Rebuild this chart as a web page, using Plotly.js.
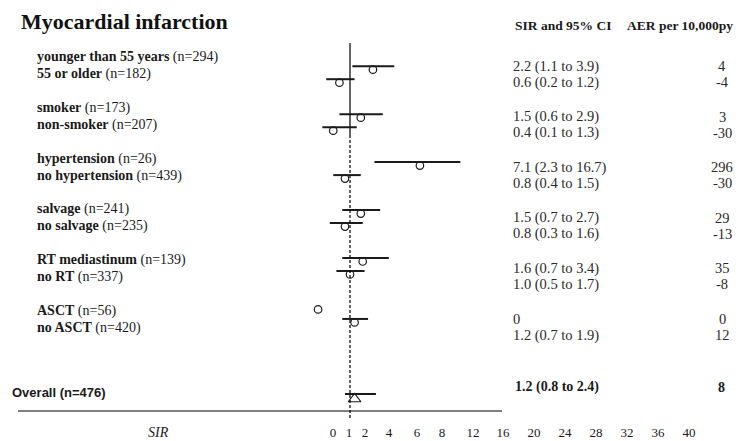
<!DOCTYPE html>
<html><head><meta charset="utf-8">
<script src="https://cdn.plot.ly/plotly-3.0.1.min.js"></script>
<style>html,body{margin:0;padding:0;background:#fff}</style>
</head><body><div id="chart" style="width:744px;height:441px"></div>
<script>
// ---- data ----
const labels = ["younger than 55 years","55 or older","smoker","non-smoker","hypertension","no hypertension","salvage","no salvage","RT mediastinum","no RT","ASCT","no ASCT"];
const counts = [294,182,173,207,26,439,241,235,139,337,56,420];
const sir = [2.2,0.6,1.5,0.4,7.1,0.8,1.5,0.8,1.6,1.0,0,1.2];
const ciLow = [1.1,0.2,0.6,0.1,2.3,0.4,0.7,0.3,0.7,0.5,null,0.7];
const ciHigh = [3.9,1.2,2.9,1.3,16.7,1.5,2.7,1.6,3.4,1.7,null,1.9];
const aer = [4,-4,3,-30,296,-30,29,-13,35,-8,0,12];
const overallLabel = "Overall";
const overallN = 476;
const overallSir = 1.2;
const overallLow = 0.8;
const overallHigh = 2.4;
const overallAer = 8;
const tickLabels = ["0","1","2","4","6","8","12","16","20","24","28","32","36","40"];

// ---- layout constants ----
const W = 744, H = 441, AXIS_Y = 411;
const tickPos = [333,349,365,389,417,442,473,503,534,565,596,627,658,689];
// SIR display scale (shifted log scale), reference value 1 at x=350
const sx = v => 350 + 52.65 * (Math.log(v + 1.2) - Math.log(2.2));
const lineY = (g, i) => 66.2 + 47.95 * g + 13 * i;
const labelY = (g, i) => 57 + 50.8 * g + 17 * i;
const valueY = (g, i) => 66 + 50.6 * g + 16 * i;
const OVERALL_LINE_Y = 394, OVERALL_LABEL_Y = 392, OVERALL_VALUE_Y = 387;
const MARK_DROP = 3.5;
const ink = '#1a1a1a';
const serif = 'Liberation Serif, Times New Roman, serif';

const fmt = v => v.toFixed(1);
const ciX = [], ciY = [], mX = [], mY = [];
const annotations = [];
labels.forEach((lab, k) => {
  const g = Math.floor(k / 2), i = k % 2;
  const y = lineY(g, i);
  if (ciLow[k] !== null) {
    ciX.push(sx(ciLow[k]), sx(ciHigh[k]), null);
    ciY.push(y, y, null);
  }
  mX.push(sx(sir[k]));
  mY.push(y + MARK_DROP);
  annotations.push({x: 35, y: labelY(g, i), xref: 'x', yref: 'y', xanchor: 'left', yanchor: 'middle', showarrow: false,
    text: '<b>' + lab + '</b> (n=' + counts[k] + ')', font: {family: serif, size: 14, color: ink}});
  const sirText = ciLow[k] === null ? String(sir[k]) : fmt(sir[k]) + ' (' + fmt(ciLow[k]) + ' to ' + fmt(ciHigh[k]) + ')';
  annotations.push({x: 511, y: valueY(g, i), xref: 'x', yref: 'y', xanchor: 'left', yanchor: 'middle', showarrow: false,
    text: sirText, font: {family: serif, size: 14.5, color: '#2a2a2a'}});
  annotations.push({x: 722, y: valueY(g, i), xref: 'x', yref: 'y', xanchor: 'center', yanchor: 'middle', showarrow: false,
    text: String(aer[k]), font: {family: serif, size: 14.5, color: '#2a2a2a'}});
});
// overall row
annotations.push({x: 10, y: OVERALL_LABEL_Y, xref: 'x', yref: 'y', xanchor: 'left', yanchor: 'middle', showarrow: false,
  text: '<b>' + overallLabel + ' (n=' + overallN + ')</b>', font: {family: 'Liberation Sans, Arial, sans-serif', size: 13, color: ink}});
annotations.push({x: 513, y: OVERALL_VALUE_Y, xref: 'x', yref: 'y', xanchor: 'left', yanchor: 'middle', showarrow: false,
  text: '<b>' + fmt(overallSir) + ' (' + fmt(overallLow) + ' to ' + fmt(overallHigh) + ')</b>', font: {family: serif, size: 14, color: ink}});
annotations.push({x: 721, y: OVERALL_VALUE_Y, xref: 'x', yref: 'y', xanchor: 'center', yanchor: 'middle', showarrow: false,
  text: '<b>' + overallAer + '</b>', font: {family: serif, size: 14, color: ink}});
// headers
annotations.push({x: 563, y: 25, xref: 'x', yref: 'y', xanchor: 'center', yanchor: 'middle', showarrow: false,
  text: '<b>SIR and 95% CI</b>', font: {family: serif, size: 13.5, color: ink}});
annotations.push({x: 680, y: 25, xref: 'x', yref: 'y', xanchor: 'center', yanchor: 'middle', showarrow: false,
  text: '<b>AER per 10,000py</b>', font: {family: serif, size: 13.5, color: ink}});
// axis title
annotations.push({x: 158, y: 432, xref: 'x', yref: 'y', xanchor: 'center', yanchor: 'middle', showarrow: false,
  text: '<i>SIR</i>', font: {family: serif, size: 14, color: ink}});

const traces = [
  {type: 'scatter', mode: 'lines', x: ciX, y: ciY, line: {color: ink, width: 2}, hoverinfo: 'skip', showlegend: false},
  {type: 'scatter', mode: 'lines', x: [sx(overallLow), sx(overallHigh)], y: [OVERALL_LINE_Y, OVERALL_LINE_Y], line: {color: ink, width: 2}, showlegend: false},
  {type: 'scatter', mode: 'markers', x: mX, y: mY, marker: {symbol: 'circle-open', size: 7.5, color: ink, line: {width: 1.2, color: ink}}, showlegend: false},
  {type: 'scatter', mode: 'markers', x: [sx(overallSir)], y: [OVERALL_LINE_Y + 5], marker: {symbol: 'triangle-up-open', size: 11, color: ink, line: {width: 1.2, color: ink}}, showlegend: false}
];

const layout = {
  width: W, height: H,
  margin: {l: 0, r: 0, t: 0, b: 0},
  paper_bgcolor: '#fff', plot_bgcolor: '#fff',
  showlegend: false,
  title: {text: '<b>Myocardial infarction</b>', font: {family: serif, size: 22, color: '#111'},
    x: 21 / W, xanchor: 'left', y: 1 - 21 / H, yanchor: 'middle'},
  xaxis: {range: [0, W], anchor: 'free', position: (H - AXIS_Y) / H, showgrid: false, zeroline: false, showline: false,
    tickmode: 'array', tickvals: tickPos, ticktext: tickLabels, ticks: 'outside', ticklen: 9, tickcolor: 'rgba(0,0,0,0)',
    tickfont: {family: serif, size: 13, color: ink}, fixedrange: true},
  yaxis: {range: [H, 0], showgrid: false, zeroline: false, showline: false, showticklabels: false, ticks: '', fixedrange: true},
  shapes: [
    {type: 'line', xref: 'x', yref: 'y', x0: 18, x1: 502, y0: AXIS_Y, y1: AXIS_Y, line: {color: '#555', width: 1.5}},
    {type: 'line', xref: 'x', yref: 'y', x0: sx(1), x1: sx(1), y0: 43, y1: 135, line: {color: '#111', width: 1.3}},
    {type: 'line', xref: 'x', yref: 'y', x0: sx(1), x1: sx(1), y0: 135, y1: 420, line: {color: '#111', width: 1.3, dash: '3px,2px'}}
  ],
  annotations: annotations
};
Plotly.newPlot('chart', traces, layout, {displayModeBar: false, staticPlot: true});
</script></body></html>
